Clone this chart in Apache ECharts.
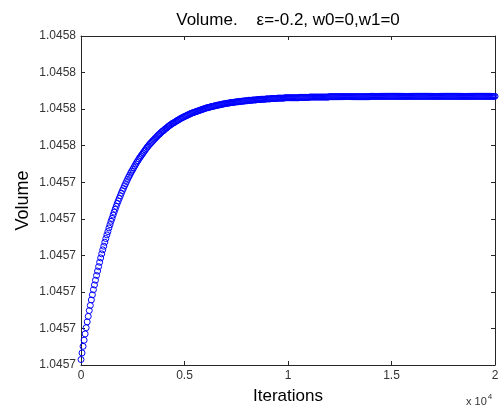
<!DOCTYPE html>
<html>
<head>
<meta charset="utf-8">
<script src="https://cdn.jsdelivr.net/npm/echarts@6/dist/echarts.min.js"></script>
<style>
html,body{margin:0;padding:0;background:#fff;}
#chart{width:503px;height:414px;}
</style>
</head>
<body>
<div id="chart"></div>
<script>
// ---- data ----
const titleText = 'Volume.    \u03b5=-0.2, w0=0,w1=0';
const xName = 'Iterations';
const yName = 'Volume';
const iterationStep = 50; // one marker every 50 iterations, starting at 0
const volume = [
1.0456915,1.0456933,1.0456951,1.0456968,1.0456985,1.0457002,1.0457018,1.0457033,1.0457049,1.0457063,
1.0457078,1.0457092,1.0457106,1.0457119,1.0457132,1.0457145,1.0457157,1.0457169,1.0457181,1.0457193,
1.0457204,1.0457215,1.0457225,1.0457236,1.0457246,1.0457256,1.0457265,1.0457275,1.0457284,1.0457293,
1.0457301,1.0457310,1.0457318,1.0457326,1.0457334,1.0457342,1.0457349,1.0457356,1.0457363,1.0457370,
1.0457377,1.0457383,1.0457390,1.0457396,1.0457402,1.0457408,1.0457414,1.0457419,1.0457425,1.0457430,
1.0457435,1.0457440,1.0457445,1.0457450,1.0457455,1.0457459,1.0457464,1.0457468,1.0457472,1.0457476,
1.0457480,1.0457484,1.0457488,1.0457492,1.0457496,1.0457499,1.0457503,1.0457506,1.0457509,1.0457512,
1.0457515,1.0457518,1.0457521,1.0457524,1.0457527,1.0457530,1.0457532,1.0457535,1.0457538,1.0457540,
1.0457542,1.0457545,1.0457547,1.0457549,1.0457552,1.0457554,1.0457556,1.0457558,1.0457560,1.0457562,
1.0457563,1.0457565,1.0457567,1.0457569,1.0457570,1.0457572,1.0457574,1.0457575,1.0457577,1.0457578,
1.0457580,1.0457581,1.0457582,1.0457584,1.0457585,1.0457586,1.0457588,1.0457589,1.0457590,1.0457591,
1.0457592,1.0457593,1.0457594,1.0457595,1.0457596,1.0457597,1.0457598,1.0457599,1.0457600,1.0457601,
1.0457602,1.0457603,1.0457604,1.0457604,1.0457605,1.0457606,1.0457607,1.0457607,1.0457608,1.0457609,
1.0457609,1.0457610,1.0457611,1.0457611,1.0457612,1.0457612,1.0457613,1.0457614,1.0457614,1.0457615,
1.0457615,1.0457616,1.0457616,1.0457617,1.0457617,1.0457618,1.0457618,1.0457618,1.0457619,1.0457619,
1.0457620,1.0457620,1.0457620,1.0457621,1.0457621,1.0457621,1.0457622,1.0457622,1.0457622,1.0457623,
1.0457623,1.0457623,1.0457624,1.0457624,1.0457624,1.0457624,1.0457625,1.0457625,1.0457625,1.0457625,
1.0457626,1.0457626,1.0457626,1.0457626,1.0457627,1.0457627,1.0457627,1.0457627,1.0457627,1.0457628,
1.0457628,1.0457628,1.0457628,1.0457628,1.0457629,1.0457629,1.0457629,1.0457629,1.0457629,1.0457629,
1.0457630,1.0457630,1.0457630,1.0457630,1.0457630,1.0457630,1.0457630,1.0457631,1.0457631,1.0457631,
1.0457631,1.0457631,1.0457631,1.0457631,1.0457631,1.0457631,1.0457631,1.0457631,1.0457631,1.0457631,
1.0457631,1.0457632,1.0457632,1.0457632,1.0457632,1.0457632,1.0457632,1.0457632,1.0457632,1.0457632,
1.0457632,1.0457633,1.0457633,1.0457633,1.0457633,1.0457633,1.0457633,1.0457633,1.0457633,1.0457633,
1.0457633,1.0457633,1.0457633,1.0457633,1.0457633,1.0457633,1.0457633,1.0457633,1.0457633,1.0457633,
1.0457634,1.0457634,1.0457634,1.0457634,1.0457634,1.0457634,1.0457634,1.0457634,1.0457634,1.0457634,
1.0457634,1.0457634,1.0457634,1.0457634,1.0457634,1.0457634,1.0457634,1.0457634,1.0457634,1.0457634,
1.0457634,1.0457634,1.0457634,1.0457634,1.0457634,1.0457634,1.0457634,1.0457634,1.0457634,1.0457634,
1.0457634,1.0457634,1.0457634,1.0457634,1.0457634,1.0457634,1.0457634,1.0457634,1.0457634,1.0457634,
1.0457635,1.0457635,1.0457635,1.0457635,1.0457635,1.0457635,1.0457635,1.0457635,1.0457635,1.0457635,
1.0457635,1.0457635,1.0457635,1.0457635,1.0457635,1.0457635,1.0457635,1.0457635,1.0457635,1.0457635,
1.0457635,1.0457635,1.0457635,1.0457635,1.0457635,1.0457635,1.0457635,1.0457635,1.0457635,1.0457635,
1.0457635,1.0457635,1.0457635,1.0457635,1.0457635,1.0457635,1.0457635,1.0457635,1.0457635,1.0457635,
1.0457635,1.0457635,1.0457635,1.0457635,1.0457635,1.0457635,1.0457635,1.0457635,1.0457635,1.0457635,
1.0457635,1.0457635,1.0457635,1.0457635,1.0457635,1.0457635,1.0457635,1.0457635,1.0457635,1.0457635,
1.0457635,1.0457635,1.0457635,1.0457635,1.0457635,1.0457635,1.0457635,1.0457635,1.0457635,1.0457635,
1.0457635,1.0457635,1.0457635,1.0457635,1.0457635,1.0457635,1.0457635,1.0457635,1.0457635,1.0457635,
1.0457635,1.0457635,1.0457635,1.0457635,1.0457635,1.0457635,1.0457635,1.0457635,1.0457635,1.0457635,
1.0457635,1.0457635,1.0457635,1.0457635,1.0457635,1.0457635,1.0457635,1.0457635,1.0457635,1.0457635,
1.0457635,1.0457635,1.0457635,1.0457635,1.0457635,1.0457635,1.0457635,1.0457635,1.0457635,1.0457635,
1.0457635,1.0457635,1.0457635,1.0457635,1.0457635,1.0457635,1.0457635,1.0457635,1.0457635,1.0457635,
1.0457635
];
const xMin = 0, xMax = 20000, xInterval = 5000, xScale = 10000;
const yMin = 1.04569, yMax = 1.04578, yInterval = 0.00001;

// ---- chart ----
const points = volume.map((v, i) => [i * iterationStep, v]);
const FONT = 'Arial, "Liberation Sans", Helvetica, sans-serif';
const axisColor = '#262626';
const labelColor = '#333333';

const commonX = {
  type: 'value', min: xMin, max: xMax, interval: xInterval,
  axisLine: { show: true, onZero: false, lineStyle: { color: axisColor, width: 1 } },
  axisTick: { show: true, inside: true, length: 4, lineStyle: { color: axisColor } },
  splitLine: { show: false }
};
const commonY = {
  type: 'value', min: yMin, max: yMax, interval: yInterval,
  axisLine: { show: true, onZero: false, lineStyle: { color: axisColor, width: 1 } },
  axisTick: { show: true, inside: true, length: 4, lineStyle: { color: axisColor } },
  splitLine: { show: false }
};

const chart = echarts.init(document.getElementById('chart'), null, { renderer: 'canvas' });
chart.setOption({
  animation: false,
  backgroundColor: '#ffffff',
  grid: { left: 81, right: 8, top: 36, bottom: 49, containLabel: false },
  xAxis: [
    Object.assign({}, commonX, {
      position: 'bottom',
      name: xName, nameLocation: 'middle', nameGap: 23, nameMoveOverlap: false,
      nameTextStyle: { fontFamily: FONT, fontSize: 17, color: '#000' },
      axisLabel: { show: true, margin: 5, fontFamily: FONT, fontSize: 12, color: labelColor,
        formatter: v => String(v / xScale) }
    }),
    Object.assign({}, commonX, { position: 'top', axisLabel: { show: false } })
  ],
  yAxis: [
    Object.assign({}, commonY, {
      position: 'left',
      name: yName, nameLocation: 'middle', nameGap: 49, nameMoveOverlap: false,
      nameTextStyle: { fontFamily: FONT, fontSize: 18, color: '#000' },
      axisLabel: { show: true, margin: 5, fontFamily: FONT, fontSize: 12, color: labelColor,
        formatter: v => (v + 1e-10).toFixed(4) }
    }),
    Object.assign({}, commonY, { position: 'right', axisLabel: { show: false } })
  ],
  graphic: [
    { type: 'text', x: 288, y: 20,
      style: { text: titleText, font: '17px ' + FONT, fill: '#000', align: 'center', verticalAlign: 'middle' } },
    { type: 'text', x: 466, y: 393,
      style: { text: '{a|x 10}{b|4}', fill: '#333',
        rich: { a: { fontFamily: FONT, fontSize: 11, color: '#333', verticalAlign: 'bottom' },
                b: { fontFamily: FONT, fontSize: 8, color: '#333', verticalAlign: 'top', padding: [0,0,6,1] } } } }
  ],
  series: [{
    type: 'scatter',
    xAxisIndex: 0, yAxisIndex: 0,
    data: points,
    symbol: 'circle',
    symbolSize: 6,
    itemStyle: { color: 'rgba(0,0,0,0)', borderColor: '#0000ff', borderWidth: 1, opacity: 1 },
    emphasis: { disabled: true },
    silent: true
  }]
});
</script>
</body>
</html>
